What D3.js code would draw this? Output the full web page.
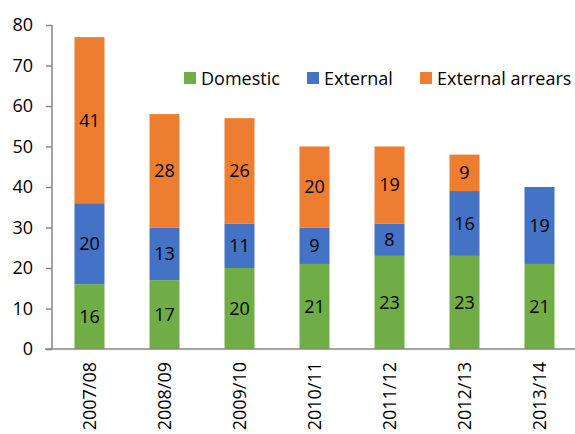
<!DOCTYPE html>
<html><head><meta charset="utf-8">
<script src="https://cdn.jsdelivr.net/npm/d3@7"></script>
<style>body{margin:0;background:#fff}svg{display:block}</style>
</head><body><div id="chart"></div>
<script>
const categories = ["2007/08","2008/09","2009/10","2010/11","2011/12","2012/13","2013/14"];
const domestic = [16,17,20,21,23,23,21];
const external = [20,13,11,9,8,16,19];
const arrears = [41,28,26,20,19,9,0];
const seriesNames = ["Domestic","External","External arrears"];
const colors = ["#70AD47","#4472C4","#ED7D31"];
const yTicks = [0,10,20,30,40,50,60,70,80];

const W=575,H=434;
const svg=d3.select("#chart").append("svg").attr("width",W).attr("height",H);
const font="'Open Sans', 'Liberation Sans', sans-serif";
const fs=18;
const x=d3.scaleBand().domain(categories).range([52,577]).paddingInner(0.6).paddingOuter(0.3);
const y=d3.scaleLinear().domain([0,80]).range([349,25]);

const rows=categories.map((c,i)=>({cat:c,Domestic:domestic[i],External:external[i],"External arrears":arrears[i]}));
const stack=d3.stack().keys(seriesNames)(rows);

const g=svg.append("g");
stack.forEach((s,si)=>{
  g.selectAll(null).data(s).enter().append("rect")
    .attr("x",d=>x(d.data.cat)).attr("width",x.bandwidth())
    .attr("y",d=>y(d[1])).attr("height",d=>y(d[0])-y(d[1]))
    .attr("fill",colors[si]);
  g.selectAll(null).data(s.filter(d=>d[1]-d[0]>0)).enter().append("text")
    .attr("x",d=>x(d.data.cat)+x.bandwidth()/2)
    .attr("y",d=>(y(d[0])+y(d[1]))/2)
    .attr("dy","0.36em").attr("text-anchor","middle")
    .attr("font-family",font).attr("font-size",fs).attr("fill","#000")
    .text(d=>d[1]-d[0]);
});

// y axis
const ya=svg.append("g").attr("transform","translate(52,0)")
  .call(d3.axisLeft(y).tickValues(yTicks).tickSize(6).tickPadding(13));
ya.select(".domain").attr("stroke","#868686").attr("stroke-width",1.5).attr("d","M0,25V349");
ya.selectAll(".tick line").attr("stroke","#868686").attr("stroke-width",1.5);
ya.selectAll("text").attr("font-family",font).attr("font-size",fs).attr("fill","#000");

// x axis
const xa=svg.append("g").attr("transform","translate(0,349)")
  .call(d3.axisBottom(x).tickSize(0).tickPadding(0));
xa.select(".domain").attr("stroke","#868686").attr("stroke-width",1.5).attr("d","M45,0H575");
xa.selectAll("text").attr("font-family",font).attr("font-size",fs).attr("fill","#000")
  .attr("transform","rotate(-90)").attr("text-anchor","end")
  .attr("x",-13).attr("y",0).attr("dy","0.35em");

// legend
const leg=[{x:184,t:"Domestic"},{x:307,t:"External"},{x:420,t:"External arrears"}];
leg.forEach((l,i)=>{
  svg.append("rect").attr("x",l.x).attr("y",72).attr("width",12).attr("height",12).attr("fill",colors[i]);
  svg.append("text").attr("x",l.x+17).attr("y",84.5).attr("font-family",font).attr("font-size",fs).attr("fill","#000").text(seriesNames[i]);
});
</script></body></html>
